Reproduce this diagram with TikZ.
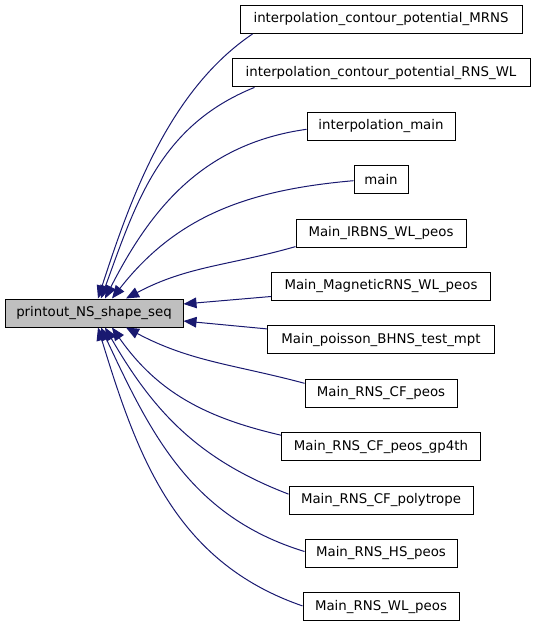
\documentclass[tikz,border=0pt]{standalone}
\usepackage{fontspec}
\setmainfont{DejaVu Sans}
\usetikzlibrary{arrows.meta}
\definecolor{edgeblue}{RGB}{25,25,112}
\definecolor{callergray}{RGB}{191,191,191}
\begin{document}
\begin{tikzpicture}[x=0.75pt, y=0.75pt]
                \useasboundingbox (0,0) rectangle (536,-627);
                \begin{scope}[every node/.style={draw, line width=0.75pt, rectangle, minimum height=21pt, inner sep=0pt, font=\fontsize{10pt}{12pt}\selectfont}]
                        \node [fill=callergray, minimum width=133.5pt] (Print) at (94,-313) {printout\_NS\_shape\_seq};
                        \node [minimum width=211.5pt] (MRNS) at (381,-19.5) {interpolation\_contour\_potential\_MRNS};
                        \node [minimum width=223.5pt] (RNSWL) at (381,-72.9) {interpolation\_contour\_potential\_RNS\_WL};
                        \node [minimum width=111pt] (IMain) at (381,-126.3) {interpolation\_main};
                        \node [minimum width=40.5pt] (Main) at (381,-179.7) {main};
                        \node [minimum width=127.5pt] (IRBNS) at (381,-233.1) {Main\_IRBNS\_WL\_peos};
                        \node [minimum width=164.25pt] (Mag) at (381,-286.5) {Main\_MagneticRNS\_WL\_peos};
                        \node [minimum width=170.25pt] (Poisson) at (381,-339.9) {Main\_poisson\_BHNS\_test\_mpt};
                        \node [minimum width=114pt] (CF) at (381,-393.3) {Main\_RNS\_CF\_peos};
                        \node [minimum width=149.25pt] (GP) at (381,-446.7) {Main\_RNS\_CF\_peos\_gp4th};
                        \node [minimum width=138pt] (Poly) at (381,-500.1) {Main\_RNS\_CF\_polytrope};
                        \node [minimum width=114pt] (HS) at (381,-553.5) {Main\_RNS\_HS\_peos};
                        \node [minimum width=117pt] (WL) at (381,-606.9) {Main\_RNS\_WL\_peos};
                \end{scope}
                \begin{scope}[every path/.style={edgeblue, line width=0.75pt, ->, >={Triangle[length=9.75pt, width=8pt]}}]
                        \path ([shift={(13,0)}]MRNS.south west) edge [out=214, in=72, looseness=0.85] ([shift={(4,0)}]Print.north);
                        \path ([shift={(23,0)}]RNSWL.south west) edge [out=202, in=70] ([shift={(7,0)}]Print.north);
                        \path ([shift={(0,-3)}]IMain.west) edge [out=188, in=63] ([shift={(11,0)}]Print.north);
                        \path ([shift={(0,-1)}]Main.west) edge [out=185, in=52] ([shift={(18,0)}]Print.north);
                        \path ([shift={(0,1)}]IRBNS.south west) edge [out=196, in=28] ([shift={(32,0)}]Print.north);
                        \path ([shift={(0,-10)}]Mag.west) edge ([shift={(0,9)}]Print.east);
                        \path ([shift={(0,11)}]Poisson.west) edge ([shift={(0,-8)}]Print.east);
                        \path ([shift={(0,10)}]CF.west) edge [out=165, in=332] ([shift={(32,0)}]Print.south);
                        \path ([shift={(0,-3)}]GP.north west) edge [out=167, in=305] ([shift={(18,0)}]Print.south);
                        \path ([shift={(0,6)}]Poly.west) edge [out=159, in=300] ([shift={(11,0)}]Print.south);
                        \path ([shift={(0,2)}]HS.west) edge [out=163, in=295] ([shift={(7,0)}]Print.south);
                        \path ([shift={(0,1)}]WL.west) edge [out=161, in=287] ([shift={(4,0)}]Print.south);
                \end{scope}
        \end{tikzpicture}
\end{document}
